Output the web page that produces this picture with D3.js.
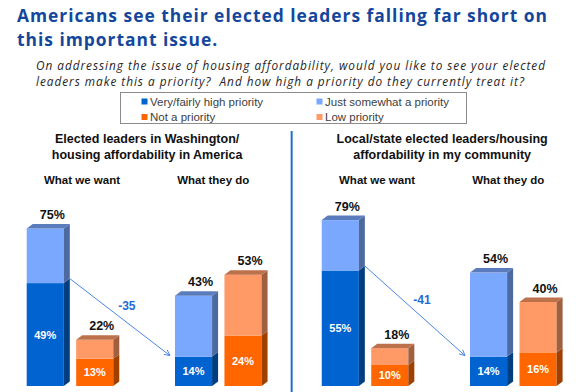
<!DOCTYPE html>
<html>
<head>
<meta charset="utf-8">
<script src="https://cdn.jsdelivr.net/npm/d3@7"></script>
<style>
  body { margin: 0; background: #fff; }
  svg { display: block; }
</style>
</head>
<body>
<script>
var titleLines = ["Americans see their elected leaders falling far short on", "this important issue."];
var questionLines = ["On addressing the issue of housing affordability, would you like to see your elected",
                     "leaders make this a priority?\u00a0 And how high a priority do they currently treat it?"];
var panelTitles = [["Elected leaders in Washington/", "housing affordability in America"],
                   ["Local/state elected leaders/housing", "affordability in my community"]];
var groups = ["What we want", "What they do"];
var seriesNames = ["Very/fairly high priority", "Just somewhat a priority", "Not a priority", "Low priority"];

// values per panel: [what we want, what they do]
var highPriority  = [[49, 14], [55, 14]];
var priorityTotal = [[75, 43], [79, 54]];
var notPriority   = [[13, 24], [10, 16]];
var noTotal       = [[22, 53], [18, 40]];

var W = 576, H = 392, dx = 6, dy = 4.5;

var svg = d3.select("body").append("svg").attr("width", W).attr("height", H);
svg.append("rect").attr("width", W).attr("height", H).attr("fill", "#fff");

var color = d3.scaleOrdinal().domain(seriesNames)
    .range(["#0063cf", "#7ba8ff", "#ff6600", "#ff9966"]);

// spread letters so the first line spans the wanted width
function spread(sel, target) {
    var w = sel.node().getComputedTextLength();
    return Math.max(0, (target - w) / sel.text().length);
}

// title
var title = svg.append("g").attr("fill", "#14479c")
    .attr("font-family", "'Open Sans', sans-serif").attr("font-weight", "bold")
    .attr("font-size", 17.4);
var t0 = title.append("text").attr("x", 17).attr("y", 21.5).text(titleLines[0]);
var tls = spread(t0, 531);
title.attr("letter-spacing", tls);
title.append("text").attr("x", 17).attr("y", 45.5).text(titleLines[1]);

// question
var q = svg.append("g").attr("fill", "#262626")
    .attr("font-family", "'Open Sans', sans-serif").attr("font-style", "italic")
    .attr("font-size", 11.8);
var q0 = q.append("text").attr("x", 36).attr("y", 70).text(questionLines[0]);
var qls = spread(q0, 510);
q.attr("letter-spacing", qls);
q.append("text").attr("x", 36).attr("y", 85.5).text(questionLines[1]);

// legend
var legend = svg.append("g").attr("font-family", "'Liberation Sans', Arial, sans-serif")
    .attr("font-size", 11.5).attr("fill", "#404040");
legend.append("rect").attr("x", 120.5).attr("y", 92.5).attr("width", 346).attr("height", 31)
    .attr("fill", "#fff").attr("stroke", "#8c8c8c");
var legCol = d3.scalePoint().domain([0, 1]).range([141.5, 316.5]);
var legRow = d3.scalePoint().domain([0, 1]).range([101.5, 117]);
var li = legend.selectAll("g.item").data(seriesNames).enter().append("g")
    .attr("transform", function(d, i) { return "translate(" + legCol(i % 2) + "," + legRow(Math.floor(i / 2)) + ")"; });
li.append("rect").attr("x", 0).attr("y", -3).attr("width", 6).attr("height", 6)
    .attr("fill", function(d) { return color(d); });
li.append("text").attr("x", 8.5).attr("dy", "0.36em").text(function(d) { return d; });

// scales
var y = d3.scaleLinear().domain([0, 100]).range([386, 176]);
var xPanel = d3.scaleBand().domain([0, 1]).range([26.7, 556.6]).paddingInner(0.204);
var xGroup = d3.scaleBand().domain(groups).range([0, xPanel.bandwidth()]).paddingInner(0.416);
var xBar = d3.scaleBand().domain(["priority", "none"]).range([0, xGroup.bandwidth()]).paddingInner(0.25);
var bw = xBar.bandwidth();

// divider
var midX = (xPanel(0) + xPanel.bandwidth() + xPanel(1)) / 2;
svg.append("line").attr("x1", midX).attr("x2", midX).attr("y1", 131).attr("y2", H)
    .attr("stroke", "#1f6fd0").attr("stroke-width", 2);

// headings
var heads = svg.append("g").attr("font-family", "'Liberation Sans', Arial, sans-serif")
    .attr("font-weight", "bold").attr("fill", "#111").attr("text-anchor", "middle");
panelTitles.forEach(function(lines, p) {
    var cx = xPanel(p) + xPanel.bandwidth() / 2 + dx / 2;
    lines.forEach(function(l, i) {
        heads.append("text").attr("x", cx).attr("y", 143 + i * 15.5).attr("font-size", 12.5).text(l);
    });
    groups.forEach(function(g, gi) {
        heads.append("text")
            .attr("x", xPanel(p) + xGroup(g) + xGroup.bandwidth() / 2 + (gi === 0 ? 12 : -5))
            .attr("y", 184).attr("font-size", 11.5).text(g);
    });
});

// bars
var bars = [];
[0, 1].forEach(function(p) {
    groups.forEach(function(g, gi) {
        var x0 = xPanel(p) + xGroup(g);
        bars.push({ x: x0 + xBar("priority"), inner: highPriority[p][gi], total: priorityTotal[p][gi],
            segs: [[seriesNames[0], 0, highPriority[p][gi]], [seriesNames[1], highPriority[p][gi], priorityTotal[p][gi]]] });
        bars.push({ x: x0 + xBar("none"), inner: notPriority[p][gi], total: noTotal[p][gi],
            segs: [[seriesNames[2], 0, notPriority[p][gi]], [seriesNames[3], notPriority[p][gi], noTotal[p][gi]]] });
    });
});

var barG = svg.append("g");
bars.forEach(function(b) {
    var g = barG.append("g");
    b.segs.forEach(function(s, si) {
        var c = color(s[0]), yb = y(s[1]), yt = y(s[2]);
        g.append("rect").attr("x", b.x).attr("y", yt).attr("width", bw).attr("height", yb - yt).attr("fill", c);
        g.append("polygon").attr("fill", d3.color(c).darker(1.3))
            .attr("points", [[b.x + bw, yt], [b.x + bw + dx, yt - dy], [b.x + bw + dx, yb - dy], [b.x + bw, yb]].join(" "));
        if (si === b.segs.length - 1) {
            g.append("polygon").attr("fill", d3.color(c).darker(0.85))
                .attr("points", [[b.x, yt], [b.x + dx, yt - dy], [b.x + bw + dx, yt - dy], [b.x + bw, yt]].join(" "));
        }
    });
    g.append("text").attr("x", b.x + bw / 2 + 7).attr("y", y(b.total) - dy - 5)
        .attr("text-anchor", "middle").attr("font-family", "'Liberation Sans', Arial, sans-serif")
        .attr("font-weight", "bold").attr("font-size", 12.5).attr("fill", "#111").text(b.total + "%");
    g.append("text").attr("x", b.x + bw / 2).attr("y", (y(0) + y(b.inner)) / 2).attr("dy", "0.36em")
        .attr("text-anchor", "middle").attr("font-family", "'Liberation Sans', Arial, sans-serif")
        .attr("font-weight", "bold").attr("font-size", 11).attr("fill", "#fff").text(b.inner + "%");
});

// gap arrows
svg.append("defs").append("marker").attr("id", "arr").attr("viewBox", "0 0 10 10")
    .attr("refX", 9).attr("refY", 5).attr("markerWidth", 7).attr("markerHeight", 7).attr("orient", "auto")
    .append("path").attr("d", "M1,1 L9,5 L1,9").attr("fill", "none").attr("stroke", "#4a86e8").attr("stroke-width", 1.3);

[0, 1].forEach(function(p) {
    var x1 = xPanel(p) + xGroup(groups[0]) + xBar("priority") + bw + dx,
        y1 = y(highPriority[p][0]) - dy,
        x2 = xPanel(p) + xGroup(groups[1]) + xBar("priority") - 5,
        y2 = y(highPriority[p][1]) - 1;
    svg.append("line").attr("x1", x1).attr("y1", y1).attr("x2", x2).attr("y2", y2)
        .attr("stroke", "#4a86e8").attr("stroke-width", 1).attr("marker-end", "url(#arr)");
    svg.append("text").attr("x", (x1 + x2) / 2 + 7).attr("y", (y1 + y2) / 2 - 11).attr("dy", "0.36em")
        .attr("text-anchor", "middle").attr("font-family", "'Liberation Sans', Arial, sans-serif")
        .attr("font-weight", "bold").attr("font-size", 12).attr("fill", "#1f6bd6")
        .text(highPriority[p][1] - highPriority[p][0]);
});
</script>
</body>
</html>
